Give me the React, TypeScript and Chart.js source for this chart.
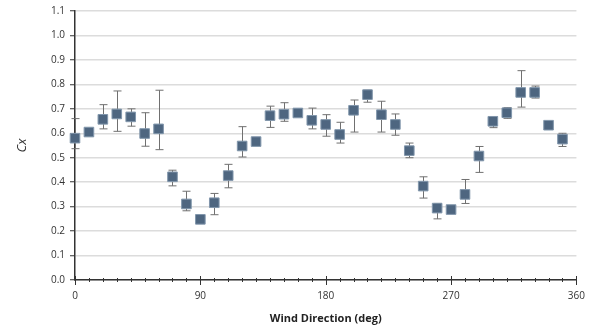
import React, { useEffect, useRef } from "react";
import { Chart, registerables } from "chart.js";

Chart.register(...registerables);

const directions = [0, 10, 20, 30, 40, 50, 60, 70, 80, 90, 100, 110, 120, 130, 140, 150, 160, 170, 180, 190, 200, 210, 220, 230, 240, 250, 260, 270, 280, 290, 300, 310, 320, 330, 340, 350];
const cxValues = [0.58, 0.605, 0.657, 0.679, 0.667, 0.599, 0.618, 0.422, 0.311, 0.248, 0.316, 0.427, 0.548, 0.566, 0.672, 0.678, 0.683, 0.653, 0.636, 0.595, 0.694, 0.758, 0.676, 0.636, 0.529, 0.384, 0.294, 0.288, 0.35, 0.507, 0.649, 0.684, 0.767, 0.767, 0.633, 0.576];
const cxUpper = [0.66, null, 0.717, 0.773, 0.70, 0.684, 0.776, 0.449, 0.363, null, 0.354, 0.473, 0.627, null, 0.711, 0.725, null, 0.703, 0.676, 0.645, 0.736, 0.776, 0.731, 0.679, 0.56, 0.422, 0.313, null, 0.411, 0.546, 0.667, 0.705, 0.856, 0.793, null, 0.60];
const cxLower = [0.537, null, 0.618, 0.608, 0.629, 0.547, 0.533, 0.385, 0.283, null, 0.267, 0.377, 0.503, null, 0.624, 0.649, null, 0.618, 0.588, 0.56, 0.605, 0.727, 0.605, 0.592, 0.50, 0.335, 0.25, null, 0.313, 0.44, 0.623, 0.661, 0.707, 0.744, null, 0.546];
const majorXTicks = [0, 90, 180, 270, 360];

const errorBarPlugin = {
  id: "errorBars",
  beforeDatasetsDraw(chart: any) {
    const { ctx, scales } = chart;
    const xs = scales.x;
    const ys = scales.y;
    ctx.save();
    ctx.strokeStyle = "#707070";
    ctx.lineWidth = 1;
    const cap = 4;
    directions.forEach((d, i) => {
      const hi = cxUpper[i];
      const lo = cxLower[i];
      if (hi == null || lo == null) return;
      const px = Math.round(xs.getPixelForValue(d)) + 0.5;
      const pTop = ys.getPixelForValue(hi);
      const pBot = ys.getPixelForValue(lo);
      ctx.beginPath();
      ctx.moveTo(px, pTop);
      ctx.lineTo(px, pBot);
      ctx.moveTo(px - cap, pTop);
      ctx.lineTo(px + cap, pTop);
      ctx.moveTo(px - cap, pBot);
      ctx.lineTo(px + cap, pBot);
      ctx.stroke();
    });
    ctx.restore();
  },
};

const xTickPlugin = {
  id: "xTicks",
  afterDraw(chart: any) {
    const { ctx, scales } = chart;
    const xs = scales.x;
    const y0 = scales.y.getPixelForValue(0);
    ctx.save();
    ctx.strokeStyle = "#333333";
    ctx.lineWidth = 1;
    for (let v = 0; v <= 360; v += 10) {
      const major = majorXTicks.includes(v);
      const px = Math.round(xs.getPixelForValue(v)) + 0.5;
      const len = major ? 4 : 2;
      ctx.beginPath();
      ctx.moveTo(px, y0 - len);
      ctx.lineTo(px, y0 + len + (major ? 1 : 0));
      ctx.stroke();
    }
    ctx.restore();
  },
};

export default function App() {
  const canvasRef = useRef<HTMLCanvasElement>(null);

  useEffect(() => {
    if (!canvasRef.current) return;
    const chart = new Chart(canvasRef.current, {
      type: "scatter",
      data: {
        datasets: [
          {
            data: directions.map((d, i) => ({ x: d, y: cxValues[i] })),
            pointStyle: "rect",
            pointRadius: 6.8,
            pointHoverRadius: 6.8,
            backgroundColor: "#4e6680",
            borderColor: "#8297ac",
            borderWidth: 1,
            clip: false,
          } as any,
        ],
      },
      options: {
        animation: false,
        responsive: false,
        maintainAspectRatio: false,
        layout: { padding: { left: 14, right: 15, top: 10, bottom: 2 } },
        plugins: {
          legend: { display: false },
          tooltip: { enabled: false },
        },
        scales: {
          x: {
            type: "linear",
            min: 0,
            max: 360,
            afterBuildTicks(scale: any) {
              scale.ticks = majorXTicks.map((v) => ({ value: v }));
            },
            afterFit(scale: any) {
              scale.height = 45;
            },
            grid: { display: false, drawTicks: false },
            border: { display: true, color: "#333333", width: 1.5 },
            ticks: {
              padding: 10,
              color: "#333333",
              font: { family: "Open Sans", size: 10 },
            },
            title: {
              display: true,
              text: "Wind Direction (deg)",
              color: "#222222",
              font: { family: "Open Sans", size: 11, weight: "bold" },
              padding: { top: 4, bottom: 0 },
            },
          },
          y: {
            min: 0,
            max: 1.1,
            afterFit(scale: any) {
              scale.width = 61;
            },
            grid: {
              color: "#dcdcdc",
              lineWidth: 1.5,
              drawTicks: true,
              tickLength: 5,
              tickColor: "#333333",
              tickWidth: 1,
            },
            border: { display: true, color: "#333333", width: 1.5 },
            ticks: {
              stepSize: 0.1,
              padding: 5,
              color: "#333333",
              font: { family: "Open Sans", size: 10 },
              callback: (v: any) => Number(v).toFixed(1),
            },
            title: {
              display: true,
              text: "Cx",
              color: "#333333",
              font: { family: "Open Sans", size: 13, style: "italic" },
              padding: { top: 0, bottom: 0 },
            },
          },
        },
      },
      plugins: [errorBarPlugin, xTickPlugin],
    });
    return () => chart.destroy();
  }, []);

  return (
    <div style={{ position: "fixed", left: 0, top: 0, width: 595, height: 327, background: "#fff" }}>
      <canvas ref={canvasRef} width={595} height={327} style={{ width: 595, height: 327 }} />
    </div>
  );
}
